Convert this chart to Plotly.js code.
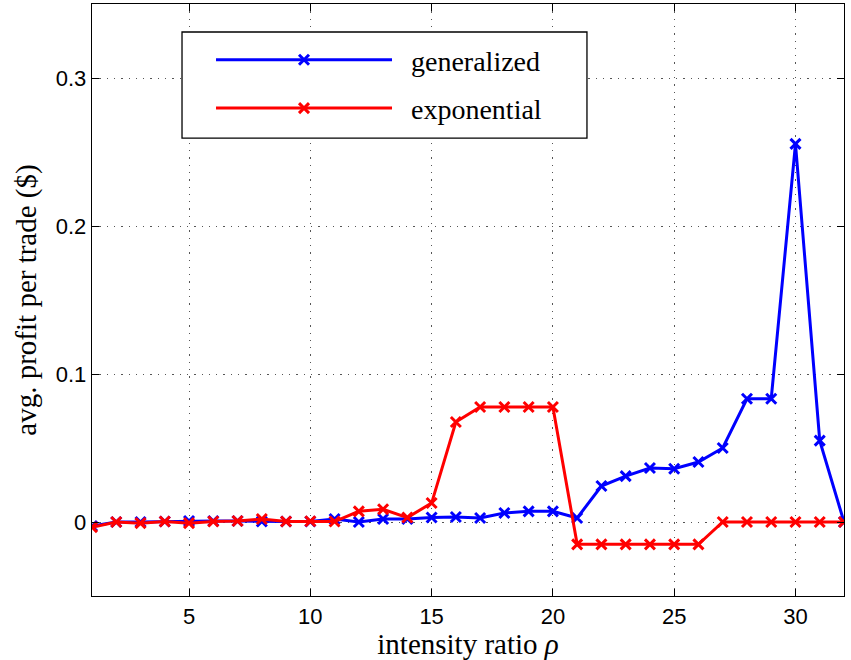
<!DOCTYPE html>
<html>
<head>
<meta charset="utf-8">
<script src="https://cdn.plot.ly/plotly-3.0.1.min.js"></script>
<style>html,body{margin:0;padding:0;background:#fff;}#chart{width:851px;height:660px;}</style>
</head>
<body>
<div id="chart"></div>
<script>
const rho = [1,2,3,4,5,6,7,8,9,10,11,12,13,14,15,16,17,18,19,20,21,22,23,24,25,26,27,28,29,30,31,32];
const generalized = [-0.0027,0.0,0.0,0.0003,0.0007,0.0007,0.0007,0.0003,0.0003,0.0003,0.002,0.0,0.002,0.002,0.003,0.0034,0.0027,0.0061,0.0072,0.0072,0.0027,0.0243,0.031,0.0365,0.036,0.0405,0.050,0.0833,0.0833,0.2555,0.055,0.0];
const exponential = [-0.0035,0.0,-0.0008,0.0003,-0.0008,0.0003,0.0007,0.002,0.0003,0.0005,0.0003,0.0072,0.0086,0.003,0.0128,0.0676,0.0777,0.0777,0.0777,0.0777,-0.0151,-0.0151,-0.0151,-0.0151,-0.0151,-0.0151,0.0,0.0,0.0,0.0,0.0,0.0];
const seriesNames = ['generalized','exponential'];
const xTicks = [5,10,15,20,25,30];
const yTicks = [0,0.1,0.2,0.3];
const yTickText = ['0','0.1','0.2','0.3'];

const NB = '\u00a0';
function mk(y, name, color, grp){
  return {x: rho, y: y, name: NB+NB+name, type:'scatter', mode:'lines+markers', legendgroup: grp,
    line:{color:color, width:3},
    marker:{symbol:'x-thin', size:10, color:color, line:{color:color, width:3}}};
}
const data = [mk(generalized, seriesNames[0], '#0000ff','g1'), mk(exponential, seriesNames[1], '#ff0000','g2')];

const axBase = {showline:true, mirror:'allticks', linecolor:'#000', linewidth:1.3,
  ticks:'inside', ticklen:7, tickcolor:'#000', showgrid:true, gridcolor:'#555', griddash:'1.3px,6px', gridwidth:1,
  zeroline:false, tickfont:{family:'Liberation Sans, Arial, sans-serif', size:22, color:'#000'}};

const layout = {
  width:851, height:660, paper_bgcolor:'#fff', plot_bgcolor:'#fff',
  margin:{l:92, r:7, t:4, b:64},
  xaxis: Object.assign({}, axBase, {range:[1,32], tickvals:xTicks,
    title:{text:'intensity ratio <i>ρ</i>', font:{family:'Liberation Serif, Times New Roman, serif', size:29, color:'#000'}, standoff:2}}),
  yaxis: Object.assign({}, axBase, {range:[-0.05,0.35], tickvals:yTicks, ticktext:yTickText,
    title:{text:'avg. profit per trade ($)', font:{family:'Liberation Serif, Times New Roman, serif', size:29, color:'#000'}, standoff:10}}),
  showlegend:true,
  legend:{x:0.1197, y:0.9476, xanchor:'left', yanchor:'top', borderwidth:0, bgcolor:'rgba(0,0,0,0)',
    font:{family:'Liberation Serif, Times New Roman, serif', size:28, color:'#000'},
    itemwidth:176, indentation:29, traceorder:'grouped', tracegroupgap:9},
  shapes:[{type:'rect', xref:'paper', yref:'paper', x0:0.1197, x1:0.6582, y0:0.7736, y1:0.9527,
    line:{color:'#000', width:1.3}, fillcolor:'#fff', layer:'above'}]
};
Plotly.newPlot('chart', data, layout, {displayModeBar:false, staticPlot:true});
</script>
</body>
</html>
